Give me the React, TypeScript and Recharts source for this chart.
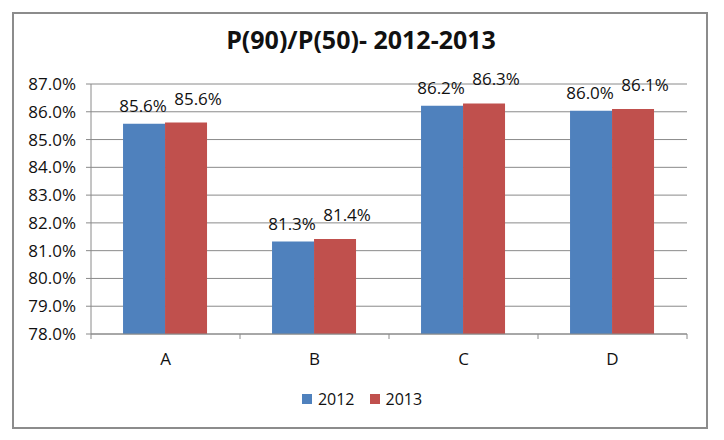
import React from "react";
import {
  BarChart,
  Bar,
  XAxis,
  YAxis,
  CartesianGrid,
  Legend,
  LabelList,
} from "recharts";

const categories = ["A", "B", "C", "D"];
const values2012 = [85.57, 81.33, 86.22, 86.04];
const values2013 = [85.61, 81.42, 86.3, 86.1];
const yTicks = [78, 79, 80, 81, 82, 83, 84, 85, 86, 87];

const data = categories.map((name, i) => ({
  name,
  y2012: values2012[i],
  y2013: values2013[i],
}));

const FONT = "'Open Sans', 'Noto Sans', sans-serif";
const BLUE = "#4F81BD";
const RED = "#C0504D";
const GRID = "#8a8a8a";
const TEXT = "#111";

const fmt = (v: number) => `${v.toFixed(1)}%`;

// Excel puts the category tick marks on the band boundaries, not the centres
const CategoryTick = (props: any) => {
  const { x, y, payload, index } = props;
  const half = payload.offset || 0;
  return (
    <g>
      <line x1={x - half} x2={x - half} y1={y - 8} y2={y - 3} stroke={GRID} />
      {index === categories.length - 1 && (
        <line x1={x + half} x2={x + half} y1={y - 8} y2={y - 3} stroke={GRID} />
      )}
      <text x={x} y={y + 23} textAnchor="middle" fill={TEXT} fontSize={17} fontFamily={FONT}>
        {payload.value}
      </text>
    </g>
  );
};

// value labels sit above the bars; the 2013 ones were nudged right in the source
const makeLabel = (dx: number, lift: number) => (props: any) => {
  const { x, y, width, value } = props;
  return (
    <text
      x={x + width / 2 + dx}
      y={y - lift}
      textAnchor="middle"
      fill={TEXT}
      fontSize={17}
      fontFamily={FONT}
    >
      {fmt(Number(value))}
    </text>
  );
};

const LegendContent = (props: any) => {
  const items = props.payload || [];
  return (
    <div style={{ display: "flex", justifyContent: "center", gap: 15, fontFamily: FONT }}>
      {items.map((it: any) => (
        <div key={it.value} style={{ display: "flex", alignItems: "center", gap: 6 }}>
          <span style={{ width: 10, height: 10, background: it.color, display: "inline-block" }} />
          <span style={{ fontSize: 16, color: TEXT }}>{it.value}</span>
        </div>
      ))}
    </div>
  );
};

const App = () => {
  return (
    <div
      style={{
        position: "absolute",
        left: 0,
        top: 0,
        width: 724,
        height: 440,
        background: "#fff",
        fontFamily: FONT,
      }}
    >
      <div
        style={{
          position: "absolute",
          left: 12,
          top: 12,
          width: 692,
          height: 413,
          border: "2px solid #8c8c8c",
        }}
      />
      <div
        style={{
          position: "absolute",
          left: 13,
          width: 696,
          top: 22,
          textAlign: "center",
          fontSize: 25,
          fontWeight: 700,
          color: TEXT,
        }}
      >
        P(90)/P(50)- 2012-2013
      </div>
      <BarChart
        width={724}
        height={440}
        data={data}
        margin={{ top: 84, right: 37, left: 11, bottom: 76 }}
        barCategoryGap="21.5%"
        barGap={0}
        style={{ position: "absolute", left: 0, top: 0 }}
      >
        <CartesianGrid vertical={false} stroke={GRID} />
        <XAxis
          dataKey="name"
          height={30}
          axisLine={{ stroke: GRID }}
          tickLine={false}
          tick={<CategoryTick />}
          interval={0}
        />
        <YAxis
          type="number"
          domain={[78, 87]}
          ticks={yTicks}
          interval={0}
          allowDataOverflow
          width={80}
          axisLine={{ stroke: GRID }}
          tickLine={{ stroke: GRID }}
          tickSize={5}
          tickMargin={10}
          tickFormatter={fmt}
          tick={{ fill: TEXT, fontSize: 17, fontFamily: FONT }}
        />
        <Legend
          layout="horizontal"
          verticalAlign="middle"
          align="center"
          content={<LegendContent />}
          wrapperStyle={{ top: 388, left: 0, width: 724 }}
        />
        <Bar dataKey="y2012" name="2012" fill={BLUE} isAnimationActive={false}>
          <LabelList dataKey="y2012" content={makeLabel(-1, 12)} />
        </Bar>
        <Bar dataKey="y2013" name="2013" fill={RED} isAnimationActive={false}>
          <LabelList dataKey="y2013" content={makeLabel(12, 18)} />
        </Bar>
      </BarChart>
    </div>
  );
};

export default App;
